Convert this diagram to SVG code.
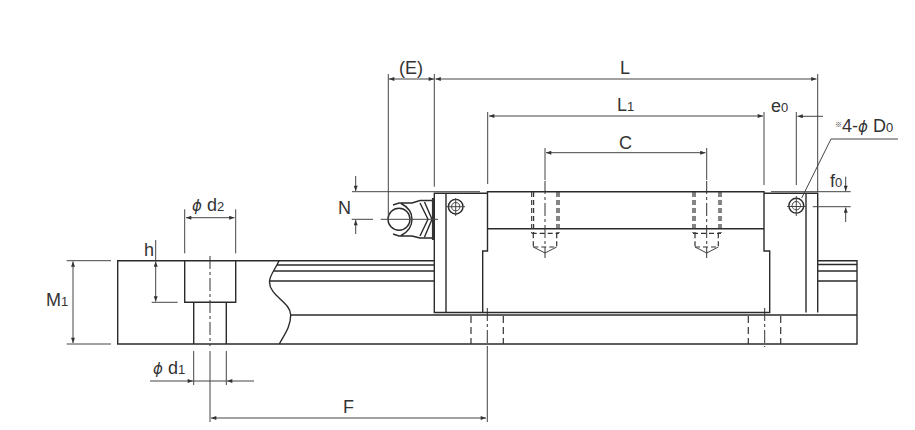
<svg xmlns="http://www.w3.org/2000/svg" width="915" height="430" viewBox="0 0 915 430">
<defs>
<marker id="a" viewBox="0 0 8 6" refX="8" refY="3" markerWidth="6" markerHeight="4" orient="auto-start-reverse" markerUnits="userSpaceOnUse"><path d="M0 0L8 3L0 6Z" fill="#333"/></marker>
</defs>
<style>
.o{fill:none;stroke:#2b2b2b;stroke-width:1.4}
.t{fill:none;stroke:#444;stroke-width:1}
.d{fill:none;stroke:#444;stroke-width:1;marker-end:url(#a)}
.h{fill:none;stroke:#333;stroke-width:1.2;stroke-dasharray:7 4}
.m{fill:none;stroke:#333;stroke-width:1.2;stroke-dasharray:5 3}
.c{fill:none;stroke:#333;stroke-width:1;stroke-dasharray:13 3 3 3}
text{font-family:"Liberation Sans",Arial,sans-serif;font-size:18px;fill:#333}
.s{font-size:13px}
.p{font-family:"DejaVu Sans",sans-serif;font-style:italic;font-size:15px}
</style>
<rect width="915" height="430" fill="#fff"/>
<g id="rail">
<path class="o" d="M279 260.7H117.7V344H857V260.7H818M290.7 315H857"/>
<path class="o" d="M279 260.7C275 270 269.5 275 269.5 282C269.5 296 290.7 302 290.7 315C290.7 327 284 335 279.3 344"/>
<path class="o" d="M279 260.7H434M277 265H434M273.5 271H434M270 281H434M818 264.5H857M818 271H857M818 281H857"/>
<path class="o" d="M184.7 260.700V302.300H235.700V260.700M193.700 302.300V344M226.300 302.300V344"/>
<path class="h" d="M471 316V344M503.300 316V344M748.300 316V344M780.700 316V344"/>
<path class="c" d="M210 256V346M487.300 308V347M764.700 308V347"/>
</g>
<g id="carriage">
<path class="o" d="M487.500 228.700H764M487.500 243V191.700H764V251H769.700V312.500H434.300V193.300H446V312.500M446 193.300H487.500V251H482.700V312.500M806 193.300V312.500M764 193.300H817.700V312.500"/>
<path class="m" d="M531.700 192V233M533.600 192V233M557 192V233M559 192V233M693 192V233M695 192V233M719 192V233M721 192V233M531.700 233.300H559M693 233.300H721M533.300 233.300V247M556.700 233.300V247M695 233.300V247M718.300 233.300V247M533.300 247H556.700M695 247H718.300"/>
<path class="t" d="M533.300 247L545 253L556.700 247M695 247L706.700 253L718.300 247"/>
<path class="c" d="M545 181V258M706.700 181V258"/>
</g>
<g id="nipple">
<circle class="o" cx="399" cy="219.300" r="11"/>
<path class="o" d="M393 205L399 203H412L420 200.500H433V238H420L412 236H399L393 234M401 203.500C408 207 412 213 412 219.300C412 226 408 232 401 235.500M420 203L428 219.300L420 236M424.500 202L432 219.300L424.500 237"/>
<path d="M433 198V240" fill="none" stroke="#333" stroke-width="2.200"/>
</g>
<g id="hole-left">
<circle class="o" cx="455.700" cy="206.700" r="7.300"/>
<circle class="t" cx="455.700" cy="206.700" r="4.200"/>
<path class="t" d="M446 206.700H465M455.700 198V216"/>
</g>
<g id="hole-right">
<circle class="o" cx="796.300" cy="205.700" r="7.400"/>
<circle class="t" cx="796.300" cy="205.700" r="4.200"/>
<path class="t" d="M787 206.500H806M796.300 196V216"/>
</g>
<g id="connectors">
<path class="t" d="M388.300 74V219M434.300 74V186.700M817.700 74V192M487.700 112V184M764 112V185M796.300 112V185M545 148V180M706.700 148V180"/>
<path class="d" d="M411 79H389"/><path class="d" d="M411 79H434"/>
<path class="d" d="M625 79H435.500"/><path class="d" d="M625 79H816.500"/>
<path class="d" d="M625 116H489"/><path class="d" d="M625 116H763"/>
<path class="d" d="M626 152.700H546"/><path class="d" d="M626 152.700H705.500"/>
<path class="d" d="M823 116.300H797.500"/>
<path class="t" d="M352 191.700H480M351.700 219.300H373M380.700 219.300H438M771 191.700H850.700"/>
<path class="d" d="M355.700 176V191"/><path class="d" d="M355.700 234V220"/>
<path class="t" d="M812.700 206.700H850.700"/>
<path class="d" d="M845.700 176.700V191"/><path class="d" d="M845.700 222V207.500"/>
<path class="t" d="M898 139H831L801.700 198"/>
<path class="t" d="M184.700 209.300V253.300M235.700 209.300V253.300"/>
<path class="d" d="M210 217.700H186"/><path class="d" d="M210 217.700H234.500"/>
<path class="t" d="M155.700 240V260M151.700 302.300H177.700"/>
<path class="d" d="M155.700 280V261.500"/><path class="d" d="M155.700 280V301.500"/>
<path class="t" d="M66.700 260.700H111M66.700 344H111"/>
<path class="d" d="M73 300V261.500"/><path class="d" d="M73 300V343"/>
<path class="t" d="M193.700 351V385M226.300 351V385M210 351V422"/>
<path class="d" d="M150 381H193"/><path class="d" d="M254 381H227"/>
<path class="t" d="M193.700 381H226.300"/>
<path class="t" d="M487.300 347V422"/>
<path class="d" d="M348 418H211"/><path class="d" d="M348 418H486"/>
</g>
<g id="labels">
<text x="399" y="74">(E)</text>
<text x="620" y="74">L</text>
<text x="617" y="111">L<tspan class="s">1</tspan></text>
<text x="619" y="149">C</text>
<text x="771" y="111.700">e<tspan class="s">0</tspan></text>
<text x="835" y="131.700"><tspan font-family="Noto Sans CJK JP" font-size="7" dy="-5">※</tspan><tspan dy="5">4-</tspan><tspan class="p">ϕ</tspan> D<tspan class="s">0</tspan></text>
<text x="830" y="186.700">f<tspan class="s">0</tspan></text>
<text x="338" y="214">N</text>
<text x="192" y="210.700"><tspan class="p">ϕ</tspan> d<tspan class="s">2</tspan></text>
<text x="144" y="255.700">h</text>
<text x="46" y="305.700">M<tspan class="s">1</tspan></text>
<text x="153" y="374"><tspan class="p">ϕ</tspan> d<tspan class="s">1</tspan></text>
<text x="343" y="413">F</text>
</g>
</svg>
